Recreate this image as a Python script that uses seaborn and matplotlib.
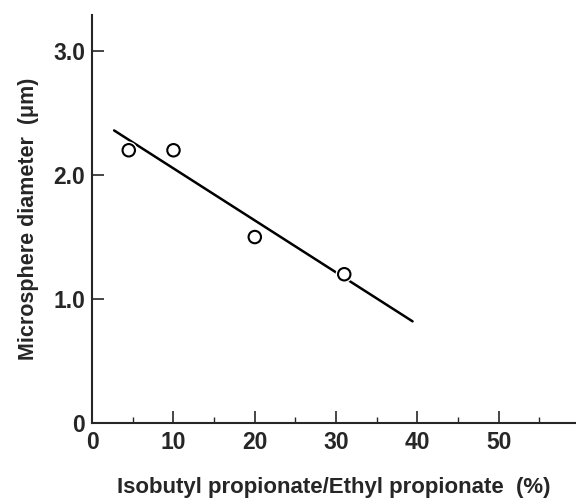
import matplotlib
matplotlib.use("Agg")
import matplotlib.pyplot as plt
import matplotlib.patheffects as pe
import seaborn as sns
import pandas as pd

# measured points
ratio_pct = [4.5, 10, 20, 31]
diameter_um = [2.2, 2.2, 1.5, 1.2]

# fitted line end points
fit_x = [2.7, 39.4]
fit_y = [2.36, 0.82]

x_major = [0, 10, 20, 30, 40, 50]
x_minor = [5, 15, 25, 35, 45, 55]
y_major = [0, 1.0, 2.0, 3.0]
y_labels = ["0", "1.0", "2.0", "3.0"]

sns.set_style("ticks")
plt.rcParams['font.family'] = ['Liberation Sans', 'DejaVu Sans']

fig = plt.figure(figsize=(5.76, 4.98), dpi=100)
ax = fig.add_axes([0.16, 0.1506, 0.84, 0.819])

pts = pd.DataFrame({"x": ratio_pct, "y": diameter_um})
fit = pd.DataFrame({"x": fit_x, "y": fit_y})

sns.lineplot(data=fit, x="x", y="y", color="black", linewidth=1.8, ax=ax, zorder=2)
sc = sns.scatterplot(data=pts, x="x", y="y", s=80, facecolor="white",
                     edgecolor="black", linewidth=1.5, ax=ax, zorder=3)
sc.collections[-1].set_path_effects([pe.Stroke(linewidth=3.5, foreground="white"), pe.Normal()])

ax.set_xlim(0, 59.5)
ax.set_ylim(0, 3.29)
ax.set_xticks(x_major)
ax.set_xticks(x_minor, minor=True)
ax.set_yticks(y_major)
ax.set_yticklabels(y_labels)

for s in ["top", "right"]:
    ax.spines[s].set_visible(False)
for s in ["left", "bottom"]:
    ax.spines[s].set_linewidth(1.5)

ax.tick_params(axis="both", which="major", direction="in", length=8.5, width=1.2,
               labelsize=16.5)
ax.tick_params(axis="x", which="major", pad=6)
ax.tick_params(axis="y", which="major", pad=5)
ax.tick_params(axis="x", which="minor", direction="in", length=4, width=1.0)
for lab in ax.get_xticklabels() + ax.get_yticklabels():
    lab.set_fontweight("bold")

ax.set_xlabel("Isobutyl propionate/Ethyl propionate  (%)", fontsize=16,
              fontweight="bold", labelpad=16)
ax.set_ylabel("Microsphere diameter  (\u03bcm)", fontsize=15.5,
              fontweight="bold", labelpad=10)

fig.savefig("out.png", dpi=100)
